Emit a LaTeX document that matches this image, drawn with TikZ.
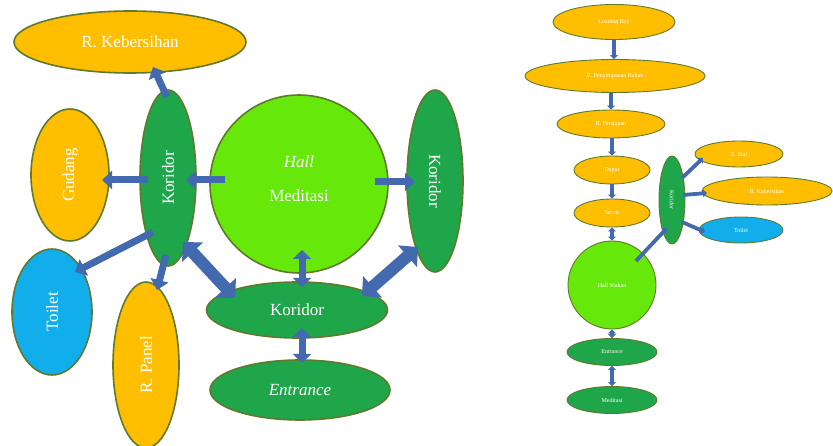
\documentclass[tikz,border=0pt]{standalone}
\usepackage{fontspec}
\setmainfont{Liberation Serif}
\newfontfamily\smallsans{Liberation Sans}
\usetikzlibrary{shapes.geometric,arrows.meta,calc}
\definecolor{orng}{HTML}{FFBF00}
\definecolor{dgreen}{HTML}{1FA64A}
\definecolor{lgreen}{HTML}{66E80A}
\definecolor{sky}{HTML}{12AEEC}
\definecolor{rim}{HTML}{5F7A2C}
\definecolor{arr}{HTML}{4369AE}
\tikzset{
  bub/.style={ellipse, draw=rim, line width=1.6pt, inner sep=0pt, text=white},
  big/.style={bub, font=\fontsize{17}{20}\selectfont},
  tiny/.style={bub, line width=0.9pt, font=\fontsize{6}{7}\selectfont},
  org/.style={fill=orng},
  dgr/.style={fill=dgreen},
  lgr/.style={fill=lgreen},
  sky/.style={fill=sky},
  barrow/.style={draw=arr, line width=7pt, -{Triangle[width=18pt,length=10pt]}},
  bbarrow/.style={draw=arr, line width=12pt, {Triangle[width=28pt,length=14pt]}-{Triangle[width=28pt,length=14pt]}},
  dbarrow/.style={draw=arr, line width=7pt, {Triangle[width=18pt,length=9pt]}-{Triangle[width=18pt,length=9pt]}},
  sarrow/.style={draw=arr, line width=3.8pt, -{Triangle[width=8pt,length=4pt]}},
  sdarrow/.style={draw=arr, line width=3.8pt, {Triangle[width=8pt,length=4pt]}-{Triangle[width=8pt,length=4pt]}},
}
\begin{document}
\begin{tikzpicture}[x=1pt,y=-1pt]
\useasboundingbox (0,0) rectangle (833,446);
% ---------- left diagram ----------
\node[big,org,minimum width=232,minimum height=62] (keb) at (130,42) {R. Kebersihan};
\node[big,org,minimum width=78,minimum height=132] (gud) at (70,175) {\rotatebox{90}{Gudang}};
\node[big,dgr,minimum width=56,minimum height=176] (korL) at (168,178) {\rotatebox{90}{Koridor}};
\node[big,lgr,circle,minimum size=178] (hall) at (299,184) {};
\node[text=white,font=\fontsize{17}{20}\selectfont\itshape] (hallA) at (299,162) {Hall};
\node[text=white,font=\fontsize{17}{20}\selectfont] (hallB) at (299,196) {Meditasi};
\node[big,dgr,minimum width=56,minimum height=182] (korR) at (435,181) {\rotatebox{-90}{Koridor}};
\node[big,sky,minimum width=80,minimum height=126] (toi) at (52,312) {\rotatebox{90}{Toilet}};
\node[big,org,minimum width=66,minimum height=166] (pan) at (146,365) {\rotatebox{90}{R. Panel}};
\node[big,dgr,minimum width=181,minimum height=56] (korB) at (297,310) {Koridor};
\node[big,dgr,minimum width=180,minimum height=60,font=\fontsize{17}{20}\selectfont\itshape] (ent) at (300,390) {Entrance};
% arrows
\draw[barrow] ($(korL)+(-1,-81)$) -- ($(keb)+(23,25)$);
\draw[barrow] ($(korL)+(-20,2)$) -- ($(gud)+(32,5)$);
\draw[barrow] ($(hall)+(-74,-4)$) -- ($(korL)+(18,2)$);
\draw[barrow] ($(hall)+(76,-2)$) -- ($(korR)+(-20,1)$);
\draw[barrow] ($(korL)+(-15,54)$) -- ($(toi)+(23,-40)$);
\draw[barrow] ($(korL)+(-2,77)$) -- ($(pan)+(11,-75)$);
\draw[bbarrow] ($(korL)+(15,64)$) -- ($(korB)+(-62,-12)$);
\draw[dbarrow] ($(hall)+(3,66)$) -- ($(korB)+(5,-23)$);
\draw[bbarrow] ($(korR)+(-17,66)$) -- ($(korB)+(65,-14)$);
\draw[dbarrow] ($(korB)+(5,18)$) -- ($(ent)+(2,-27)$);
% ---------- right diagram ----------
\node[tiny,org,minimum width=122,minimum height=35] (lb) at (614,22) {Loading Bay};
\node[tiny,org,minimum width=180,minimum height=33] (rpb) at (615,76) {R. Penyimpanan Bahan};
\node[tiny,org,minimum width=108,minimum height=28] (rps) at (611,124) {R. Persiapan};
\node[tiny,org,minimum width=76,minimum height=28] (dap) at (612,170) {Dapur};
\node[tiny,org,minimum width=76,minimum height=28] (ser) at (612,213) {Servis};
\node[tiny,lgr,circle,minimum size=88] (hm) at (612,285) {Hall Makan};
\node[tiny,dgr,minimum width=90,minimum height=27] (sent) at (612,352) {Entrance};
\node[tiny,dgr,minimum width=90,minimum height=27] (smed) at (612,400) {Meditasi};
\node[tiny,dgr,minimum width=26,minimum height=88] (skor) at (672,200) {\rotatebox{-90}{Koridor}};
\node[tiny,org,minimum width=88,minimum height=26] (sstf) at (739,154) {R. Staf};
\node[tiny,org,minimum width=130,minimum height=28] (skeb) at (767,191) {R. Kebersihan};
\node[tiny,sky,minimum width=84,minimum height=26] (stoi) at (741,230) {Toilet};
\draw[sarrow] (lb) -- (lb|-rpb.north);
\draw[sarrow] (rpb.south-|rps) -- (rps);
\draw[sarrow] (rps.south-|dap) -- (dap);
\draw[sarrow] (dap) -- (ser);
\draw[sdarrow] (ser) -- (hm);
\draw[sdarrow] (hm) -- (sent);
\draw[sdarrow] (sent) -- (smed);
\draw[sarrow] ($(hm)+(24,-24)$) -- ($(skor)+(-5,28)$);
\draw[sarrow] ($(skor)+(10,-22)$) -- ($(sstf)+(-36,4)$);
\draw[sarrow] ($(skor)+(11,-5)$) -- ($(skeb)+(-60,2)$);
\draw[sarrow] ($(skor)+(10,22)$) -- ($(stoi)+(-36,2)$);
\end{tikzpicture}
\end{document}
